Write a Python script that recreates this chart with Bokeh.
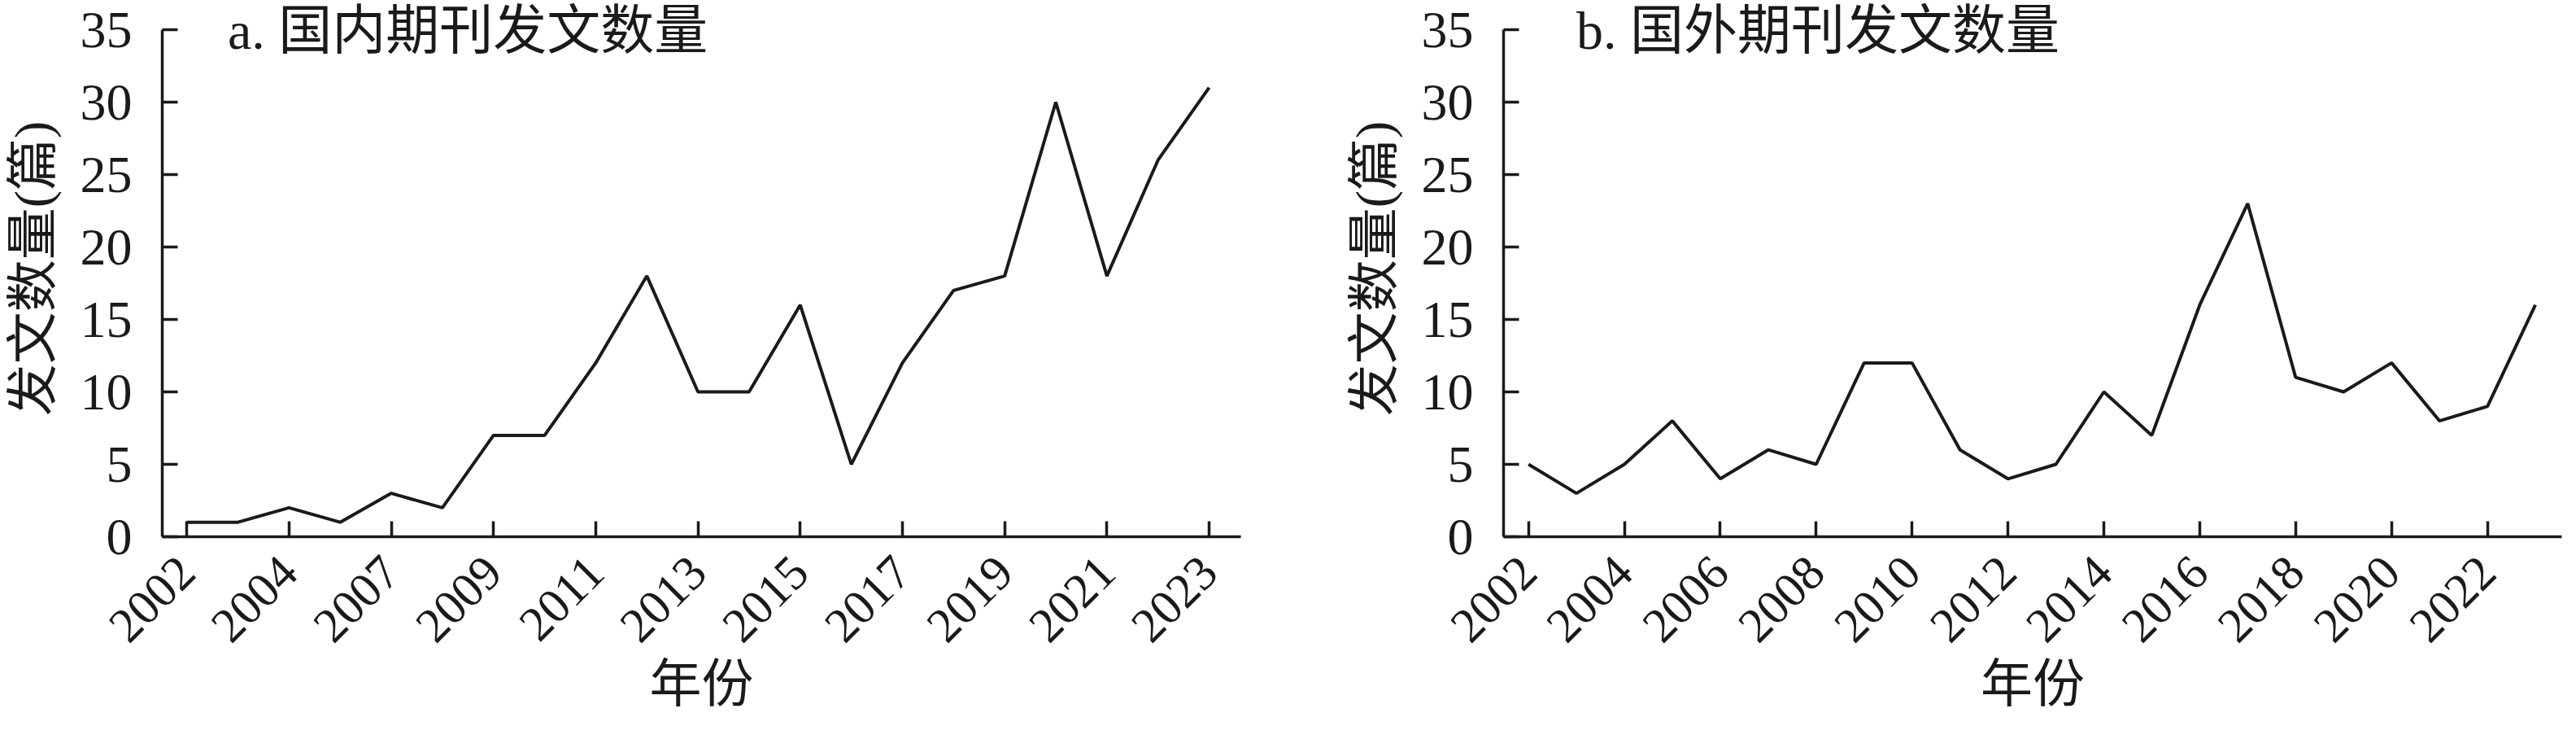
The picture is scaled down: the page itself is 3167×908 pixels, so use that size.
import math
from bokeh.plotting import figure
from bokeh.layouts import row
from bokeh.models import FixedTicker, Range1d, Label
from bokeh.embed import file_html
from bokeh.resources import INLINE

# ---- data ----
years_domestic = [2002, 2003, 2004, 2006, 2007, 2008, 2009, 2010, 2011, 2012, 2013,
                  2014, 2015, 2016, 2017, 2018, 2019, 2020, 2021, 2022, 2023]
counts_domestic = [1, 1, 2, 1, 3, 2, 7, 7, 12, 18, 10, 10, 16, 5, 12, 17, 18, 30, 18, 26, 31]

years_foreign = list(range(2002, 2024))
counts_foreign = [5, 3, 5, 8, 4, 6, 5, 12, 12, 6, 4, 5, 10, 7, 16, 23, 11, 10, 12, 8, 9, 16]

title_domestic = "a. 国内期刊发文数量"
title_foreign = "b. 国外期刊发文数量"
y_label = "发文数量(篇)"
x_label = "年份"
y_ticks = [0, 5, 10, 15, 20, 25, 30, 35]
y_max = 35

NUM_FONT = "Liberation Serif"
CJK_FONT = "Liberation Serif, Noto Sans CJK SC"
INK = "#1a1a1a"
H = 892
FRAME_H = 659          # frame from canvas top down to the x axis
AXIS_TOP_GAP = 36      # px between frame top and the top tick of the y axis


def make(years, counts, title, width, min_left, min_right, pad_l, pad_r, title_x):
    n = len(counts)
    y_top = y_max * FRAME_H / (FRAME_H - AXIS_TOP_GAP)
    p = figure(width=width, height=H, output_backend="svg", toolbar_location=None,
               x_range=Range1d(-pad_l, n - 1 + pad_r), y_range=Range1d(0, y_top),
               min_border_left=min_left, min_border_right=min_right,
               min_border_top=0, min_border_bottom=H - FRAME_H)
    p.line(x=list(range(n)), y=counts, line_color=INK, line_width=4)
    p.grid.visible = False
    p.outline_line_color = None
    p.background_fill_color = "white"

    ticks = list(range(0, n, 2))
    p.xaxis.ticker = FixedTicker(ticks=ticks)
    p.xaxis.major_label_overrides = {i: str(years[i]) for i in ticks}
    p.xaxis.major_label_orientation = math.pi / 4
    p.yaxis.ticker = FixedTicker(ticks=y_ticks)
    p.yaxis.bounds = (0, y_max)

    for ax in (p.xaxis[0], p.yaxis[0]):
        ax.axis_line_color = INK
        ax.axis_line_width = 3.5
        ax.major_tick_line_color = INK
        ax.major_tick_line_width = 3.5
        ax.major_tick_in = 19
        ax.major_tick_out = 0
        ax.minor_tick_line_color = None
        ax.major_label_text_font = NUM_FONT
        ax.major_label_text_color = INK
        ax.axis_label_text_font = CJK_FONT
        ax.axis_label_text_font_size = "64px"
        ax.axis_label_text_font_style = "normal"
        ax.axis_label_text_color = INK

    p.yaxis.major_label_text_font_size = "64px"
    p.yaxis.major_label_standoff = 37
    p.yaxis.axis_label = y_label
    p.yaxis.axis_label_standoff = 20
    p.xaxis.major_label_text_font_size = "60px"
    p.xaxis.major_label_standoff = 34
    p.xaxis.axis_label = x_label
    p.xaxis.axis_label_standoff = -4

    p.add_layout(Label(x=title_x, y=y_top, text=title, text_font=CJK_FONT,
                       text_font_size="66px", text_color=INK,
                       text_baseline="top", text_align="left"))
    return p


W1 = 1643
W2 = 3151 - W1
p1 = make(years_domestic, counts_domestic, title_domestic, W1, 199, W1 - 1525, 0.48, 0.62, 0.8)
p2 = make(years_foreign, counts_foreign, title_foreign, W2, 205, 2, 0.52, 0.55, 1.0)

layout = row(p1, p2)
open("out.html", "w").write(file_html(layout, INLINE))
